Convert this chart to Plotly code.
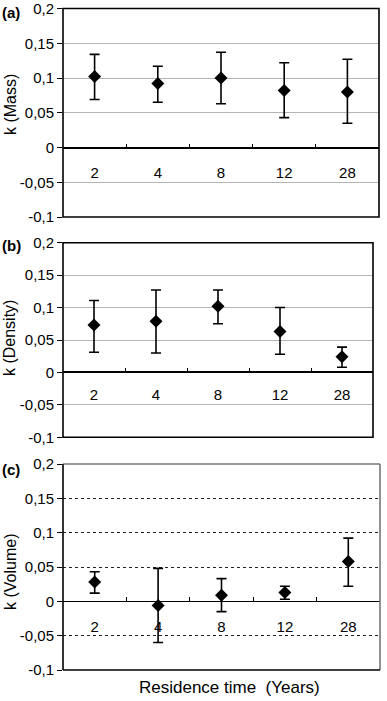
import plotly.graph_objects as go

# ---- data ----
categories = ["2", "4", "8", "12", "28"]

mass_k = [0.102, 0.092, 0.100, 0.082, 0.080]
mass_up = [0.032, 0.025, 0.037, 0.040, 0.047]
mass_down = [0.033, 0.027, 0.037, 0.039, 0.045]

density_k = [0.073, 0.079, 0.102, 0.063, 0.024]
density_up = [0.038, 0.048, 0.025, 0.037, 0.015]
density_down = [0.042, 0.049, 0.027, 0.035, 0.016]

volume_k = [0.028, -0.006, 0.009, 0.013, 0.058]
volume_up = [0.015, 0.054, 0.024, 0.009, 0.034]
volume_down = [0.016, 0.054, 0.024, 0.010, 0.036]

y_tickvals = [0.2, 0.15, 0.1, 0.05, 0, -0.05, -0.1]
y_ticktext = ["0,2", "0,15", "0,1", "0,05", "0", "-0,05", "-0,1"]
y_range = [-0.1, 0.2]

panel_letters = ["(a)", "(b)", "(c)"]
y_titles = ["k (Mass)", "k (Density)", "k (Volume)"]
x_title = "Residence time  (Years)"

W, H = 387, 701
FONT = "Liberation Sans, Arial, sans-serif"

# panel pixel boxes: (left, right, top, bottom)
boxes = [(63, 379, 8.5, 217), (63, 373, 242.7, 437.3), (63, 380, 464, 670)]
title_y = [105, 338, 572]
letter_y = [12, 245, 469]
label_standoff = [14, 12, 15]

series = [(mass_k, mass_up, mass_down), (density_k, density_up, density_down),
          (volume_k, volume_up, volume_down)]

fig = go.Figure()
annotations = []
shapes = []

for i, ((yk, up, dn), (l, r, t, b)) in enumerate(zip(series, boxes)):
    n = "" if i == 0 else str(i + 1)
    xa, ya = "x" + n, "y" + n
    fig.add_trace(go.Scatter(
        x=categories, y=yk, xaxis=xa, yaxis=ya, mode="markers",
        marker=dict(symbol="diamond", size=10, color="black"),
        error_y=dict(type="data", symmetric=False, array=up, arrayminus=dn,
                     color="black", thickness=1.6, width=5),
        showlegend=False, cliponaxis=False,
    ))
    xd = [l / W, r / W]
    yd = [1 - b / H, 1 - t / H]
    zero_pos = yd[0] + (0 - y_range[0]) / (y_range[1] - y_range[0]) * (yd[1] - yd[0])
    dashed = i == 2
    fig.layout["xaxis" + n] = dict(
        domain=xd, anchor="free", position=zero_pos, type="category",
        range=[-0.5, 4.5], tickson="boundaries", ticks="inside", ticklen=4,
        tickcolor="black", tickwidth=1, showline=False, showgrid=False,
        zeroline=False, ticklabelstandoff=label_standoff[i], automargin=False,
        ticklabeloverflow="allow",
        tickfont=dict(family=FONT, size=15, color="black"), fixedrange=True,
    )
    fig.layout["yaxis" + n] = dict(
        domain=yd, anchor=xa, range=y_range, tickvals=y_tickvals,
        ticktext=y_ticktext, ticks="outside", ticklen=5, tickcolor="black",
        tickwidth=1, showline=False, showgrid=True, automargin=False,
        ticklabeloverflow="allow",
        gridcolor="#222222" if dashed else "#b4b4b4",
        griddash="dot" if dashed else "solid", gridwidth=1,
        zeroline=True, zerolinecolor="black", zerolinewidth=1.3 if dashed else 1.8,
        tickfont=dict(family=FONT, size=15, color="black"), fixedrange=True,
    )
    # plot frame
    if not dashed:
        shapes.append(dict(type="rect", xref=xa + " domain", yref=ya + " domain",
                           x0=0, x1=1, y0=0, y1=1, line=dict(color="black", width=1.6),
                           layer="above"))
    else:
        for (x0, y0, x1, y1, c) in [(0, 1, 1, 1, "#777777"), (1, 0, 1, 1, "#777777"),
                                    (0, 0, 1, 0, "black"), (0, 0, 0, 1, "black")]:
            shapes.append(dict(type="line", xref=xa + " domain", yref=ya + " domain",
                               x0=x0, x1=x1, y0=y0, y1=y1,
                               line=dict(color=c, width=1.6), layer="above"))
    annotations.append(dict(text=y_titles[i], xref="paper", yref="paper",
                            x=10 / W, y=1 - title_y[i] / H, textangle=-90,
                            showarrow=False, xanchor="center", yanchor="middle",
                            font=dict(family=FONT, size=16, color="black")))
    annotations.append(dict(text="<b>" + panel_letters[i] + "</b>", xref="paper",
                            yref="paper", x=0, y=1 - letter_y[i] / H,
                            showarrow=False, xanchor="left", yanchor="middle",
                            font=dict(family=FONT, size=15, color="black")))

annotations.append(dict(text=x_title, xref="paper", yref="paper", x=229 / W,
                        y=1 - 687 / H, showarrow=False, xanchor="center",
                        yanchor="middle",
                        font=dict(family=FONT, size=17, color="black")))

fig.update_layout(
    width=W, height=H, margin=dict(l=0, r=0, t=0, b=0, autoexpand=False),
    paper_bgcolor="white", plot_bgcolor="white",
    annotations=annotations, shapes=shapes, showlegend=False,
)

fig.write_html("out.html", config={"displayModeBar": False},
               post_script="document.body.style.margin='0px';")
